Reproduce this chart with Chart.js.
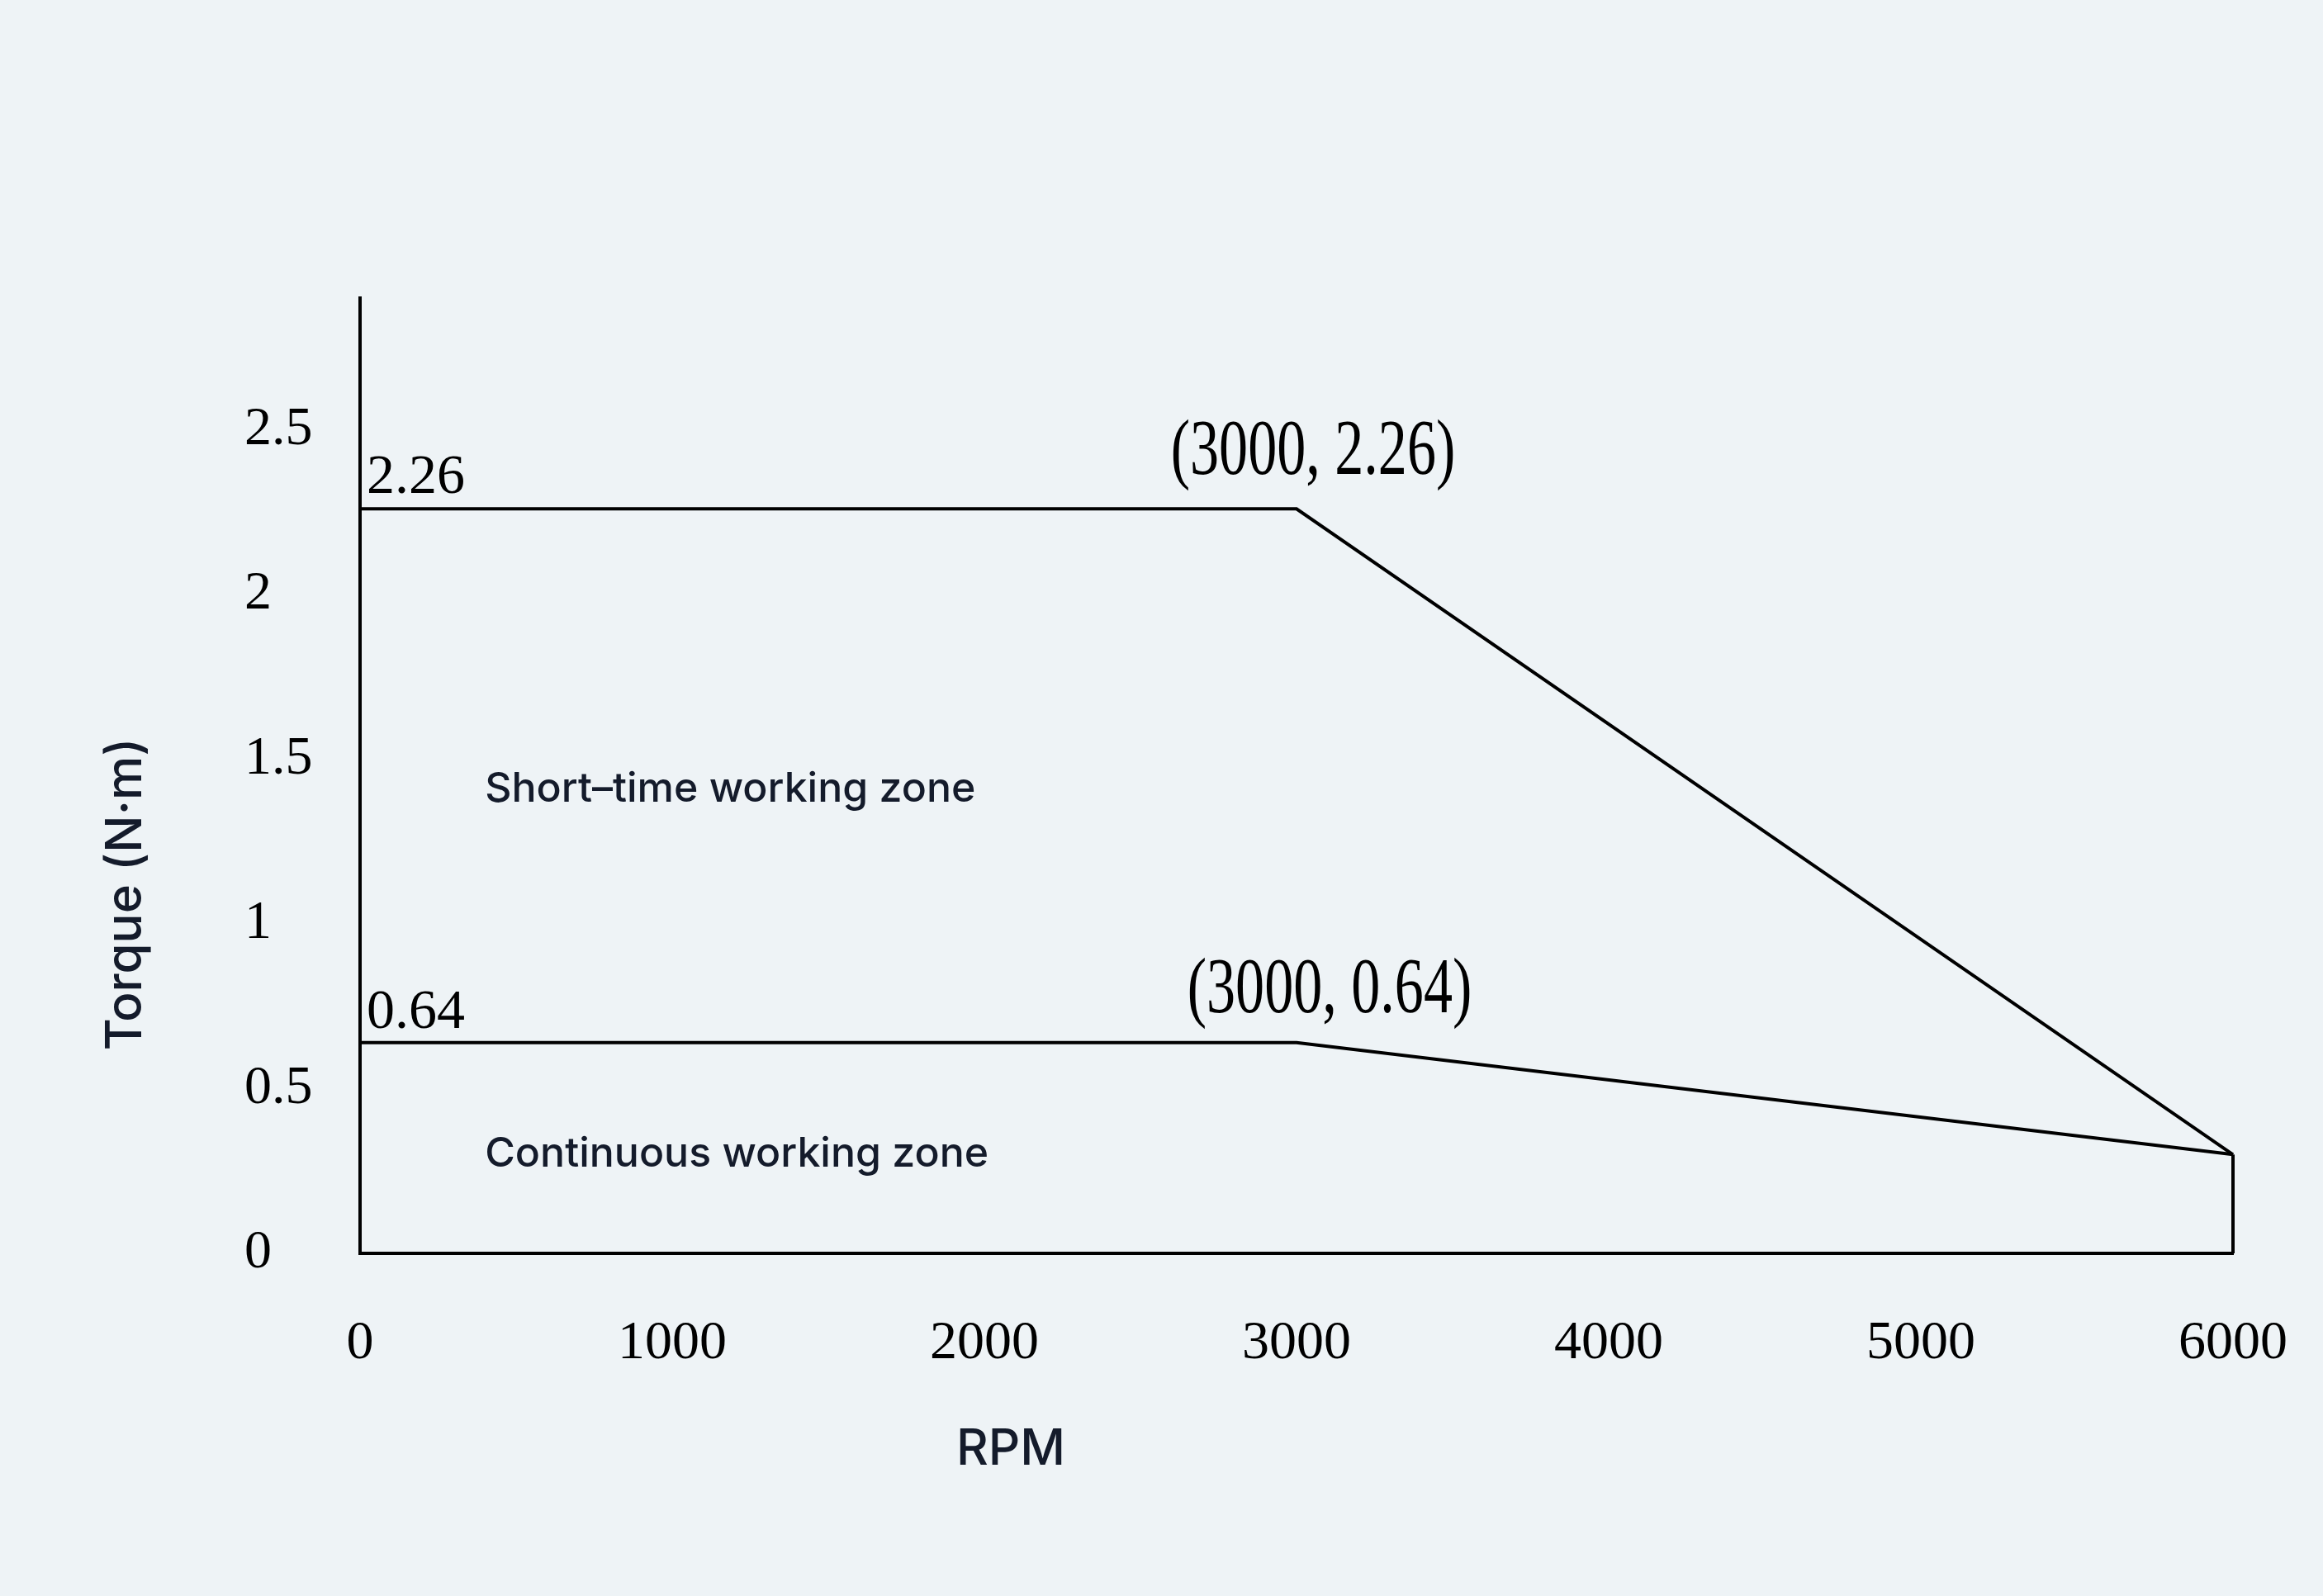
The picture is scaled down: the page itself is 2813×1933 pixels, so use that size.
<!DOCTYPE html>
<html lang="en">
<head>
    <meta charset="UTF-8">
    <title>Torque - RPM</title>
    <script src="https://cdn.jsdelivr.net/npm/chart.js"></script>
    <style>
        body { margin: 0; background: #eef3f6; }
        canvas { display: block; }
    </style>
</head>
<body>
    <canvas id="grafico" width="2813" height="1933"></canvas>

    <script>
        // dados
        var rotacao = [0, 3000, 6000];
        var torqueCurto = [2.26, 2.26, 0.3];
        var torqueContinuo = [0.64, 0.64, 0.3];
        var rotacaoLimite = [6000, 6000];
        var torqueLimite = [0, 0.3];
        var ticksX = [0, 1000, 2000, 3000, 4000, 5000, 6000];
        var ticksY = [0, 0.5, 1, 1.5, 2, 2.5];

        function pontos(xs, ys) {
            var lista = [];
            for (var i = 0; i < xs.length; i++) {
                lista.push({ x: xs[i], y: ys[i] });
            }
            return lista;
        }

        var corTexto = '#141b2b';

        // textos extras: anotações, zonas e títulos dos eixos
        var textosExtras = {
            id: 'textosExtras',
            afterDatasetsDraw: function (chart) {
                var ctx = chart.ctx;
                var sx = chart.scales.x;
                var sy = chart.scales.y;
                ctx.save();

                // rótulos dos níveis junto ao eixo
                ctx.fillStyle = '#000';
                ctx.font = '68px "Liberation Serif"';
                ctx.textAlign = 'left';
                ctx.textBaseline = 'alphabetic';
                ctx.fillText('2.26', sx.getPixelForValue(0) + 8, sy.getPixelForValue(torqueCurto[0]) - 19);
                ctx.fillText('0.64', sx.getPixelForValue(0) + 8, sy.getPixelForValue(torqueContinuo[0]) - 18);

                // anotações dos pontos de quebra (fonte estreita)
                var anot = [
                    { txt: '(3000, 2.26)', x: rotacao[1], y: torqueCurto[1], dx: 20, dy: -42 },
                    { txt: '(3000, 0.64)', x: rotacao[1], y: torqueContinuo[1], dx: 40, dy: -37 }
                ];
                ctx.font = '96px "Liberation Serif"';
                ctx.textAlign = 'center';
                anot.forEach(function (a) {
                    ctx.save();
                    ctx.translate(sx.getPixelForValue(a.x) + a.dx, sy.getPixelForValue(a.y) + a.dy);
                    ctx.scale(0.73, 1);
                    ctx.fillText(a.txt, 0, 0);
                    ctx.restore();
                });

                // zonas
                ctx.fillStyle = corTexto;
                ctx.font = '500 50px Inter';
                ctx.textAlign = 'left';
                ctx.fillText('Short–time working zone', sx.getPixelForValue(400), sy.getPixelForValue(1.37));
                ctx.fillText('Continuous working zone', sx.getPixelForValue(400), sy.getPixelForValue(0.263));

                // títulos dos eixos
                ctx.font = '500 60px Inter';
                ctx.textAlign = 'center';
                ctx.fillText('RPM', 1224, 1774);

                ctx.save();
                ctx.translate(171, 1083);
                ctx.rotate(-Math.PI / 2);
                ctx.fillText('Torque (N·m)', 0, 0);
                ctx.restore();

                ctx.restore();
            }
        };

        var estiloLinha = {
            borderColor: '#000',
            borderWidth: 4,
            pointRadius: 0,
            tension: 0,
            fill: false,
            clip: false,
            showLine: true
        };

        var ctxGrafico = document.getElementById('grafico').getContext('2d');
        Chart.defaults.font.family = '"Liberation Serif"';
        Chart.defaults.color = '#000';

        var configGrafico = {
            type: 'scatter',
            data: {
                datasets: [
                    Object.assign({ label: 'Short-time', data: pontos(rotacao, torqueCurto) }, estiloLinha),
                    Object.assign({ label: 'Continuous', data: pontos(rotacao, torqueContinuo) }, estiloLinha),
                    Object.assign({ label: 'Limite', data: pontos(rotacaoLimite, torqueLimite) }, estiloLinha)
                ]
            },
            options: {
                responsive: false,
                devicePixelRatio: 1,
                animation: false,
                layout: {
                    padding: { left: 296, top: 361, right: 109, bottom: 0 }
                },
                plugins: {
                    legend: { display: false },
                    tooltip: { enabled: false }
                },
                scales: {
                    x: {
                        type: 'linear',
                        min: 0,
                        max: 6000,
                        afterFit: function (s) {
                            s.height = 415;
                            s.paddingLeft = 0;
                            s.paddingRight = 0;
                        },
                        afterBuildTicks: function (s) {
                            s.ticks = ticksX.map(function (v) { return { value: v }; });
                        },
                        grid: { display: false, drawTicks: false },
                        border: { display: true, color: '#000', width: 4 },
                        ticks: {
                            padding: 70,
                            maxRotation: 0,
                            autoSkip: false,
                            font: { size: 66 },
                            callback: function (v) { return String(v); }
                        }
                    },
                    y: {
                        type: 'linear',
                        min: 0,
                        max: 2.9,
                        afterFit: function (s) {
                            s.width = 140;
                            s.paddingTop = 0;
                            s.paddingBottom = 0;
                        },
                        afterBuildTicks: function (s) {
                            s.ticks = ticksY.map(function (v) { return { value: v }; });
                        },
                        grid: { display: false, drawTicks: false },
                        border: { display: true, color: '#000', width: 4 },
                        ticks: {
                            crossAlign: 'far',
                            font: { size: 66 },
                            callback: function (v) { return String(v); }
                        }
                    }
                }
            },
            plugins: [textosExtras]
        };

        var graficoTorque = new Chart(ctxGrafico, configGrafico);
    </script>
</body>
</html>
